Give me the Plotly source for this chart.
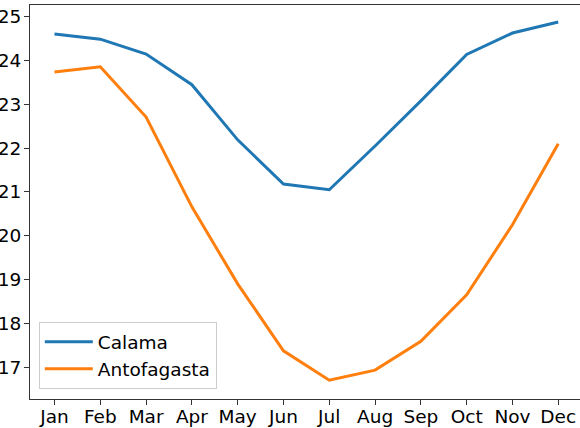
import plotly.graph_objects as go

months = ['Jan', 'Feb', 'Mar', 'Apr', 'May', 'Jun',
          'Jul', 'Aug', 'Sep', 'Oct', 'Nov', 'Dec']
calama = [24.61, 24.49, 24.15, 23.45, 22.19, 21.18,
          21.05, 22.05, 23.08, 24.14, 24.63, 24.88]
antofagasta = [23.74, 23.86, 22.71, 20.66, 18.90, 17.37,
               16.70, 16.93, 17.59, 18.65, 20.25, 22.10]

font = dict(family='DejaVu Sans', size=18.5, color='black')

fig = go.Figure()
fig.add_trace(go.Scatter(x=list(range(12)), y=calama, mode='lines', name='Calama',
                         line=dict(color='#1f77b4', width=3)))
fig.add_trace(go.Scatter(x=list(range(12)), y=antofagasta, mode='lines', name='Antofagasta',
                         line=dict(color='#ff7f0e', width=3)))

fig.update_layout(
    width=580, height=428,
    margin=dict(l=30, r=0, t=5, b=29),
    paper_bgcolor='white', plot_bgcolor='white',
    font=font,
    showlegend=True,
    legend=dict(x=0.016, y=0.025, xanchor='left', yanchor='bottom',
                bgcolor='rgba(255,255,255,0.8)', bordercolor='#cccccc', borderwidth=1,
                itemwidth=48, font=font),
)
fig.update_xaxes(range=[-0.535, 11.475], tickvals=list(range(12)), ticktext=months,
                 showgrid=False, zeroline=False, showline=True, linecolor='#333333',
                 linewidth=1, mirror=True, ticks='outside', ticklen=5, tickcolor='#333333',
                 automargin=False, ticklabelstandoff=-4)
fig.update_yaxes(range=[16.27, 25.27], tickvals=list(range(17, 26)),
                 showgrid=False, zeroline=False, showline=True, linecolor='#333333',
                 linewidth=1, ticks='outside', ticklen=5, tickcolor='#333333',
                 automargin=False, ticklabelstandoff=-1)

# the page body has a default 8px margin; drop it so the figure sits at 0,0
fig.write_html("out.html", config={'displayModeBar': False},
               post_script="document.body.style.margin='0';")
